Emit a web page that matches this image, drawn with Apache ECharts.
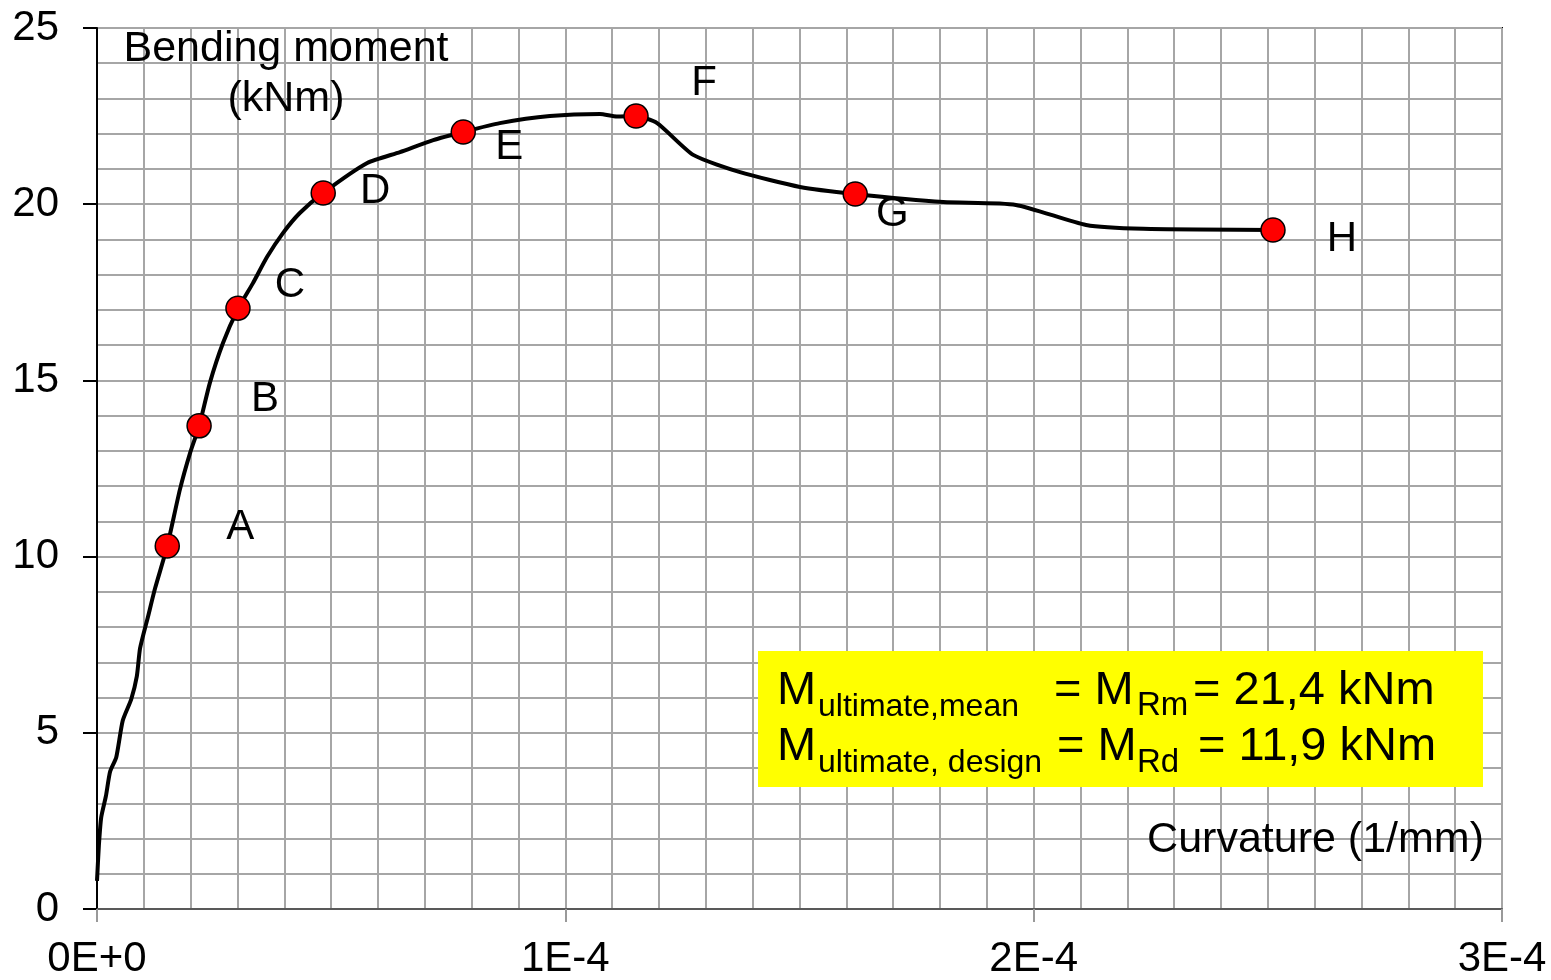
<!DOCTYPE html>
<html>
<head>
<meta charset="utf-8">
<title>Bending moment - curvature</title>
<script src="https://cdn.jsdelivr.net/npm/echarts@6/dist/echarts.min.js"></script>
<style>
  html, body { margin: 0; padding: 0; background: #fff; }
  #chart { width: 1551px; height: 980px; }
</style>
</head>
<body>
<div id="chart"></div>
<script>
  // measured curve (curvature in 1/mm, moment in kNm)
  var curvature = [0, 0.04e-5, 0.09e-5, 0.19e-5, 0.28e-5, 0.41e-5, 0.55e-5, 0.73e-5, 0.85e-5, 0.92e-5,
    1.09e-5, 1.24e-5, 1.50e-5, 1.77e-5, 1.99e-5, 2.18e-5, 2.41e-5, 2.69e-5, 3.01e-5, 3.33e-5,
    3.63e-5, 3.97e-5, 4.33e-5, 4.83e-5, 5.77e-5, 6.47e-5, 7.18e-5, 7.82e-5, 8.60e-5, 9.67e-5,
    10.74e-5, 11.10e-5, 11.51e-5, 11.96e-5, 12.73e-5, 13.73e-5, 15.01e-5, 16.19e-5, 18.07e-5, 19.62e-5,
    21.12e-5, 22.34e-5, 25.11e-5];
  var moment = [0.8, 1.8, 2.6, 3.2, 3.9, 4.3, 5.35, 5.95, 6.6, 7.4,
    8.3, 9.1, 10.3, 11.9, 12.95, 13.7, 14.93, 16.06, 17.03, 17.76,
    18.5, 19.18, 19.75, 20.32, 21.17, 21.48, 21.82, 22.05, 22.3, 22.5,
    22.56, 22.49, 22.5, 22.3, 21.4, 20.91, 20.49, 20.29, 20.06, 19.98,
    19.41, 19.3, 19.27];

  // marked stages
  var pointNames = ['A', 'B', 'C', 'D', 'E', 'F', 'G', 'H'];
  var pointCurvature = [1.50e-5, 2.18e-5, 3.01e-5, 4.83e-5, 7.82e-5, 11.51e-5, 16.19e-5, 25.11e-5];
  var pointMoment = [10.3, 13.71, 17.05, 20.32, 22.05, 22.5, 20.29, 19.27];

  var xTickLabels = ['0E+0', '1E-4', '2E-4', '3E-4'];
  var yTickLabels = ['0', '5', '10', '15', '20', '25'];

  var FONT = '"Liberation Sans", Arial, sans-serif';
  var gridColor = '#a6a6a6';

  // where each letter sits next to its point (px)
  var labelOffset = {
    A: [73, -19], B: [66, -26], C: [52, -23], D: [52, -2],
    E: [46, 15], F: [68, -33], G: [37, 20], H: [69, 9]
  };

  var lineData = curvature.map(function (c, i) { return [c, moment[i]]; });
  var pointData = pointNames.map(function (n, i) {
    return {
      name: n,
      value: [pointCurvature[i], pointMoment[i]],
      label: { offset: labelOffset[n] }
    };
  });

  function txt(x, y, text, size, align, z) {
    return {
      type: 'text', x: x, y: y, z: z || 50,
      style: { text: text, font: size + 'px ' + FONT, fill: '#000', align: align || 'left', verticalAlign: 'middle' }
    };
  }

  var chart = echarts.init(document.getElementById('chart'));

  chart.setOption({
    animation: false,
    backgroundColor: '#fff',
    textStyle: { fontFamily: FONT },
    grid: {
      left: 97, right: 49, top: 28, bottom: 71,
      show: true, borderColor: '#000', borderWidth: 2
    },
    xAxis: {
      type: 'value',
      min: 0, max: 3e-4, interval: 1e-4,
      axisLine: { lineStyle: { color: '#595959', width: 2 } },
      axisTick: { length: 13, lineStyle: { color: '#999', width: 2 } },
      axisLabel: {
        fontSize: 42, color: '#000', margin: 29, fontFamily: FONT,
        formatter: function (v) { return xTickLabels[Math.round(v / 1e-4)]; }
      },
      splitLine: { show: true, lineStyle: { color: gridColor, width: 2 } },
      minorTick: { show: false, splitNumber: 10 },
      minorSplitLine: { show: true, lineStyle: { color: gridColor, width: 2 } }
    },
    yAxis: {
      type: 'value',
      min: 0, max: 25, interval: 5,
      axisLine: { show: true, lineStyle: { color: '#000', width: 2 } },
      axisTick: { show: true, length: 14, lineStyle: { color: '#000', width: 2 } },
      axisLabel: {
        fontSize: 42, color: '#000', margin: 38, fontFamily: FONT,
        formatter: function (v) { return yTickLabels[Math.round(v / 5)]; }
      },
      splitLine: { show: true, lineStyle: { color: gridColor, width: 2 } },
      minorTick: { show: false, splitNumber: 5 },
      minorSplitLine: { show: true, lineStyle: { color: gridColor, width: 2 } }
    },
    series: [
      {
        type: 'line',
        data: lineData,
        showSymbol: false,
        symbol: 'none',
        smooth: 0.2,
        lineStyle: { color: '#000', width: 4 },
        z: 3
      },
      {
        type: 'scatter',
        data: pointData,
        symbolSize: 24,
        itemStyle: { color: '#ff0000', borderColor: '#000', borderWidth: 1.5, opacity: 1 },
        label: {
          show: true,
          position: 'inside',
          formatter: '{b}',
          fontSize: 42,
          color: '#000',
          fontFamily: FONT
        },
        z: 4
      }
    ],
    graphic: [
      txt(286, 49, 'Bending moment', 43, 'center'),
      txt(286, 99, '(kNm)', 43, 'center'),
      txt(1484, 840, 'Curvature (1/mm)', 43, 'right'),
      { type: 'rect', z: 100, shape: { x: 758, y: 651, width: 725, height: 136 }, style: { fill: '#ffff00' } },
      txt(777, 691, 'M', 47, 'left', 101),
      txt(818, 707, 'ultimate,mean', 32, 'left', 101),
      txt(1054, 691, '= M', 47, 'left', 101),
      txt(1137, 706, 'Rm', 33, 'left', 101),
      txt(1193, 691, '= 21,4 kNm', 47, 'left', 101),
      txt(777, 747, 'M', 47, 'left', 101),
      txt(818, 763, 'ultimate, design', 32, 'left', 101),
      txt(1057, 747, '= M', 47, 'left', 101),
      txt(1137, 763, 'Rd', 33, 'left', 101),
      txt(1198, 747, '= 11,9 kNm', 47, 'left', 101)
    ]
  });

  window.addEventListener('resize', function () { chart.resize(); });
</script>
</body>
</html>
